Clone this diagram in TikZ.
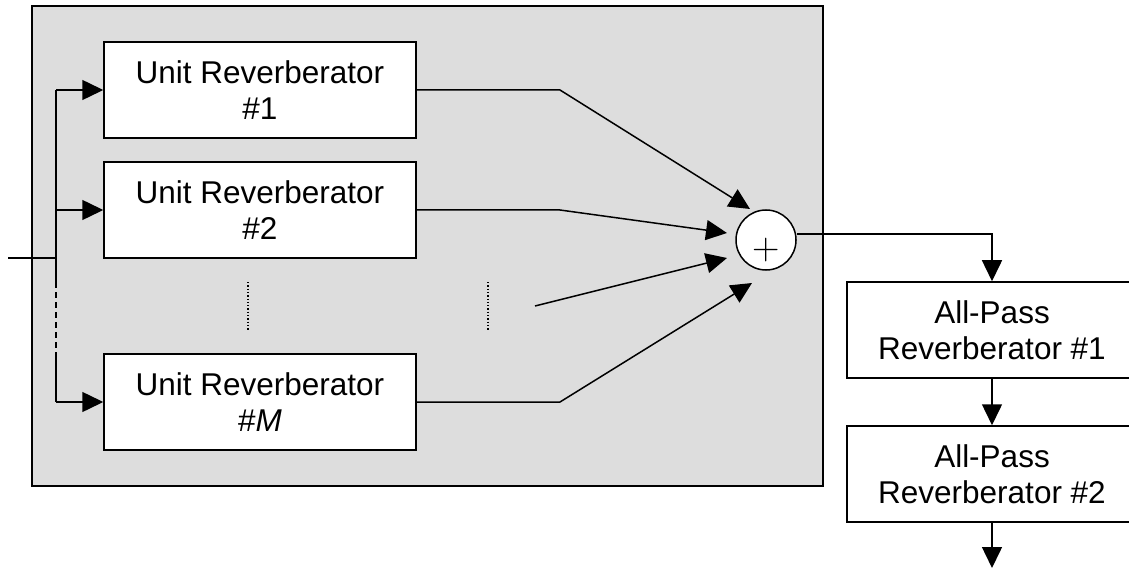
\documentclass[tikz,border=0pt]{standalone}
\usepackage{fontspec}
\newfontfamily\arial{Liberation Sans}
\usetikzlibrary{arrows.meta}
\definecolor{bankgray}{RGB}{221,221,221}
\tikzset{
  wire/.style={line width=1.5pt},
  sig/.style={wire, -{Triangle[length=21pt,width=20pt]}},
  unitbox/.style={draw, line width=1.5pt, fill=white, minimum width=312pt,
    minimum height=96pt, inner sep=0pt, align=center,
    font=\arial\fontsize{31.5}{36}\selectfont},
  apbox/.style={unitbox, minimum width=290pt},
  bankbox/.style={draw, line width=1.5pt, fill=bankgray, minimum width=791pt,
    minimum height=480pt, inner sep=0pt},
  sumnode/.style={draw, circle, line width=1.5pt, fill=white, minimum size=60pt, inner sep=0pt},
  dotline/.style={line width=1.3pt, dash pattern=on 1.3pt off 2pt},
}
\begin{document}
\begin{tikzpicture}[x=1pt, y=-1pt]
\useasboundingbox (0,0) rectangle (1129,569);

% shaded bank of parallel unit reverberators
\node[bankbox] (bank) at (427.5,246) {};

\node[unitbox] (u1) at (260,90)  {Unit Reverberator\\\#1};
\node[unitbox] (u2) at (260,210) {Unit Reverberator\\\#2};
\node[unitbox] (uM) at (260,402) {Unit Reverberator\\\#\textit{M}};

% summing junction
\node[sumnode] (sum) at (766,240) {};
\node[font=\fontsize{38}{38}\selectfont, inner sep=0pt, anchor=base] (plus) at (766,260) {+};

% all-pass chain
\node[apbox] (ap1) at (992,330) {All-Pass\\Reverberator \#1};
\node[apbox] (ap2) at (992,474) {All-Pass\\Reverberator \#2};

% input distribution
\coordinate (in) at (8,258);
\coordinate (j) at (56,258);
\coordinate (b1) at (56,90);
\coordinate (b2) at (56,210);
\coordinate (bM) at (56,402);
\coordinate (d1) at (56,282);
\coordinate (d2) at (56,353);
\draw[wire] (in) -- (j);
\draw[wire] (b1) -- (d1);
\draw[wire, dash pattern=on 6pt off 4pt] (d1) -- (d2);
\draw[wire] (d2) -- (bM);
\draw[sig] (b1) -- (u1.west);
\draw[sig] (b2) -- (u2.west);
\draw[sig] (bM) -- (uM.west);

% ellipsis marks for the omitted branches
\coordinate (e1a) at (248,282);
\coordinate (e1b) at (248,330);
\coordinate (e2a) at (488,282);
\coordinate (e2b) at (488,330);
\draw[dotline] (e1a) -- (e1b);
\draw[dotline] (e2a) -- (e2b);

% branches into the summing junction
\coordinate (k1) at (560,90);
\coordinate (k2) at (560,210);
\coordinate (k3) at (535,306);
\coordinate (kM) at (560,402);
\coordinate (t1) at (750,209);
\coordinate (t2) at (727,233);
\coordinate (t3) at (727,258);
\coordinate (tM) at (752,283);
\draw[sig] (u1.east) -- (k1) -- (t1);
\draw[sig] (u2.east) -- (k2) -- (t2);
\draw[sig] (k3) -- (t3);
\draw[sig] (uM.east) -- (kM) -- (tM);

% output path through the all-pass chain
\coordinate (o1) at (992,234);
\coordinate (out) at (992,568);
\draw[sig] ([yshift=6pt]sum.east) -- (o1) -- (ap1.north);
\draw[sig] (ap1.south) -- (ap2.north);
\draw[sig] (ap2.south) -- (out);
\end{tikzpicture}
\end{document}
